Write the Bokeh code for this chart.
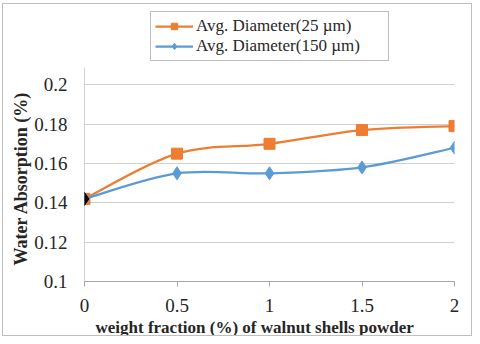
from bokeh.plotting import figure
from bokeh.models import Legend, LegendItem, FixedTicker, ColumnDataSource, Title
from bokeh.embed import file_html
from bokeh.resources import INLINE

x_vals = [0, 0.5, 1, 1.5, 2]
d25 = [0.142, 0.165, 0.170, 0.177, 0.179]
d150 = [0.142, 0.155, 0.155, 0.158, 0.168]
x_ticks = [0, 0.5, 1, 1.5, 2]
y_ticks = [0.1, 0.12, 0.14, 0.16, 0.18, 0.2]
Y_AXIS_TOP = 0.2087   # top of the value axis line
Y_VIEW_TOP = 0.2388   # room above the axis for the legend

ORANGE = "#ED7D31"
BLUE = "#5B9BD5"
FONT = "Liberation Serif"


def smooth_segments(xs, ys):
    n = len(xs)
    px = [xs[0]] + list(xs) + [xs[-1]]
    py = [ys[0]] + list(ys) + [ys[-1]]
    d = dict(x0=[], y0=[], x1=[], y1=[], cx0=[], cy0=[], cx1=[], cy1=[])
    for i in range(1, n):
        d["x0"].append(px[i]); d["y0"].append(py[i])
        d["x1"].append(px[i + 1]); d["y1"].append(py[i + 1])
        d["cx0"].append(px[i] + (px[i + 1] - px[i - 1]) / 6)
        d["cy0"].append(py[i] + (py[i + 1] - py[i - 1]) / 6)
        d["cx1"].append(px[i + 1] - (px[i + 2] - px[i]) / 6)
        d["cy1"].append(py[i + 1] - (py[i + 2] - py[i]) / 6)
    return ColumnDataSource(d)


p = figure(width=470, height=333, output_backend="svg", toolbar_location=None,
           x_range=(0, 2), y_range=(0.1, Y_VIEW_TOP),
           min_border_left=81, min_border_right=19, min_border_top=4, min_border_bottom=56)
p.styles = {"margin-left": "2px", "margin-top": "3px", "border": "1px solid #BFBFBF"}
p.outline_line_color = None
p.background_fill_color = "white"
p.border_fill_color = "white"

p.xgrid.visible = False
p.ygrid.grid_line_color = "#D0D0D0"
p.ygrid.grid_line_width = 1

p.xaxis.ticker = FixedTicker(ticks=x_ticks)
p.yaxis.ticker = FixedTicker(ticks=y_ticks)
p.xaxis.major_label_overrides = {0: "0", 0.5: "0.5", 1: "1", 1.5: "1.5", 2: "2"}
p.yaxis.major_label_overrides = {0.1: "0.1", 0.12: "0.12", 0.14: "0.14", 0.16: "0.16", 0.18: "0.18", 0.2: "0.2"}
for ax in (p.xaxis, p.yaxis):
    ax.axis_line_color = "#A6A6A6"
    ax.major_tick_line_color = "#A6A6A6"
    ax.minor_tick_line_color = None
    ax.major_label_text_font = FONT
    ax.major_label_text_font_size = "19px"
    ax.major_label_text_color = "#262626"
p.yaxis.axis_line_color = None
p.xaxis.major_tick_out = 5
p.xaxis.major_tick_in = 0
p.yaxis.major_tick_out = 0
p.yaxis.major_tick_in = 0
p.xaxis.major_label_standoff = 12
p.yaxis.major_label_standoff = 17

# value axis line, ending just above the top gridline as in the original
p.segment(x0=[x_ticks[0]], y0=[y_ticks[0]], x1=[x_ticks[0]], y1=[Y_AXIS_TOP],
          line_color="#A6A6A6", line_width=1)

ytitle = Title(text="Water Absorption (%)", align="left", offset=16,
               text_font=FONT, text_font_style="bold", text_font_size="18px",
               text_color="#262626", standoff=1)
p.add_layout(ytitle, "left")
xtitle = Title(text="weight fraction (%) of walnut shells powder", align="left", offset=11,
               text_font=FONT, text_font_style="bold", text_font_size="17px",
               text_color="#262626", standoff=2)
p.add_layout(xtitle, "below")

s25 = smooth_segments(x_vals, d25)
s150 = smooth_segments(x_vals, d150)
b25 = p.bezier(x0="x0", y0="y0", x1="x1", y1="y1", cx0="cx0", cy0="cy0", cx1="cx1", cy1="cy1",
               source=s25, line_color=ORANGE, line_width=2.25)
m25 = p.scatter(x_vals, d25, marker="square", size=11, fill_color=ORANGE, line_color=ORANGE)
b150 = p.bezier(x0="x0", y0="y0", x1="x1", y1="y1", cx0="cx0", cy0="cy0", cx1="cx1", cy1="cy1",
                source=s150, line_color=BLUE, line_width=2.25)
m150 = p.scatter(x_vals, d150, marker="diamond", size=13, fill_color=BLUE, line_color=BLUE)
# first point of the second series drawn dark in the original
p.scatter(x_vals[:1], d150[:1], marker="diamond", size=13, fill_color="black", line_color="black")

legend = Legend(items=[
    LegendItem(label="Avg. Diameter(25 µm)", renderers=[b25, m25]),
    LegendItem(label="Avg. Diameter(150 µm)", renderers=[b150, m150]),
], location=(66, 220), orientation="vertical")
legend.label_text_font = FONT
legend.label_text_font_size = "17px"
legend.label_text_color = "#262626"
legend.border_line_color = "#808080"
legend.border_line_width = 1
legend.glyph_width = 38
legend.glyph_height = 16
legend.label_standoff = 3
legend.padding = 4
legend.spacing = 0
legend.margin = 0
legend.label_height = 18
legend.label_width = 188
legend.background_fill_color = "white"
p.add_layout(legend, "center")

open("out.html", "w").write(file_html(p, INLINE))
